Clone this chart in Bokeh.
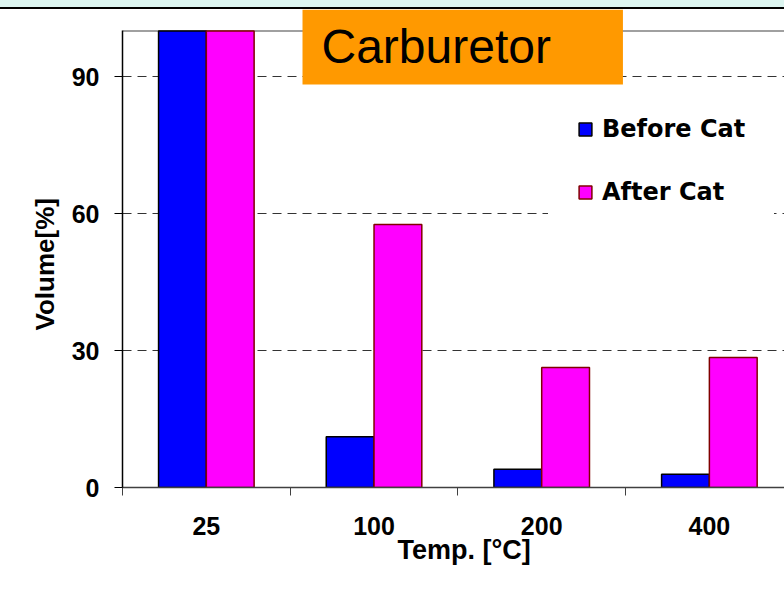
from bokeh.plotting import figure
from bokeh.models import ColumnDataSource, Range1d, FixedTicker, Label, Legend, Span, Div, Title
from bokeh.layouts import column
from bokeh.transform import dodge
from bokeh.embed import file_html
from bokeh.resources import INLINE

# ---- data ----
temps = ["25", "100", "200", "400"]
before_cat = [100, 11.1, 4.0, 2.9]
after_cat = [100, 57.6, 26.3, 28.5]
y_ticks = [0, 30, 60, 90]
title_text = "Carburetor"
x_title = "Temp. [°C]"
y_title = "Volume[%]"

centers = [i + 0.5 for i in range(len(temps))]
src = ColumnDataSource(dict(x=centers, before=before_cat, after=after_cat))

FONT = "Liberation Sans"

p = figure(width=784, height=601, output_backend="svg", toolbar_location=None,
           x_range=Range1d(0, 3.948), y_range=Range1d(0, 104.7),
           min_border_left=122, min_border_right=0, min_border_top=0,
           min_border_bottom=123)
p.background_fill_color = "white"
p.border_fill_color = "white"
p.outline_line_color = None

# frame top line
p.add_layout(Span(location=100, dimension="width", line_color="#808080",
                  line_width=1.5, level="underlay"))

bw = 0.285
r1 = p.vbar(x=dodge("x", -bw / 2), top="before", width=bw, source=src,
            fill_color="#0000FF", line_color="black", line_width=1.5)
r2 = p.vbar(x=dodge("x", bw / 2), top="after", width=bw, source=src,
            fill_color="#FF00FF", line_color="#800000", line_width=1.5)

# x axis
xa = p.xaxis[0]
xa.ticker = FixedTicker(ticks=centers, minor_ticks=list(range(len(temps) + 1)))
xa.major_label_overrides = {c: t for c, t in zip(centers, temps)}
xa.major_tick_out = 0
xa.major_tick_in = 0
xa.minor_tick_out = 8
xa.minor_tick_in = 0
xa.minor_tick_line_color = "#404040"
xa.axis_line_color = "#404040"
xa.axis_line_width = 1.5
xa.major_label_standoff = 21
xa.major_label_text_font = FONT
xa.major_label_text_font_style = "bold"
xa.major_label_text_font_size = "25px"
xa.major_label_text_color = "black"

# y axis
ya = p.yaxis[0]
ya.bounds = (0, 100)
ya.ticker = FixedTicker(ticks=y_ticks)
ya.major_tick_out = 8
ya.major_tick_in = 0
ya.minor_tick_out = 0
ya.minor_tick_in = 0
ya.axis_line_color = "black"
ya.axis_line_width = 1.5
ya.major_tick_line_color = "black"
ya.major_tick_line_width = 1.2
ya.major_label_standoff = 15
ya.major_label_text_font = FONT
ya.major_label_text_font_style = "bold"
ya.major_label_text_font_size = "25px"
ya.major_label_text_color = "black"

# axis titles
p.add_layout(Title(text=y_title, align="left", offset=157, standoff=18,
                   text_font=FONT, text_font_style="bold", text_font_size="26px",
                   text_color="black"), "left")
p.add_layout(Title(text=x_title, align="left", offset=275, standoff=-10,
                   text_font=FONT, text_font_style="bold", text_font_size="27px",
                   text_color="black"), "below")

p.xgrid.grid_line_color = None
p.ygrid.ticker = FixedTicker(ticks=y_ticks[1:])
p.ygrid.grid_line_color = "#333333"
p.ygrid.grid_line_dash = "9 6"
p.ygrid.grid_line_width = 1

# legend
legend = Legend(items=[("Before Cat", [r1]), ("After Cat", [r2])],
                location=(426, 252), padding=28, spacing=35, margin=0,
                label_standoff=9, glyph_width=16, glyph_height=16,
                label_height=24, border_line_color="white",
                background_fill_color="white", background_fill_alpha=1.0,
                label_text_font="DejaVu Sans", label_text_font_style="bold",
                label_text_font_size="24px", label_text_color="black")
p.add_layout(legend)

# title box
p.add_layout(Label(x=1.0735, y=104.7, x_units="data", y_units="data",
                   text=title_text, text_font=FONT, text_font_size="48px",
                   text_color="black", text_align="left", text_baseline="top",
                   background_fill_color="#FF9900", level="overlay",
                   padding=dict(left=19, right=72, top=10, bottom=12)))

band = Div(text="", width=784, height=9, margin=0,
           styles={"background-color": "#dcf5f0", "border-bottom": "2px solid black",
                   "box-sizing": "border-box"})

layout = column(band, p, spacing=0)
open("out.html", "w").write(file_html(layout, INLINE))
